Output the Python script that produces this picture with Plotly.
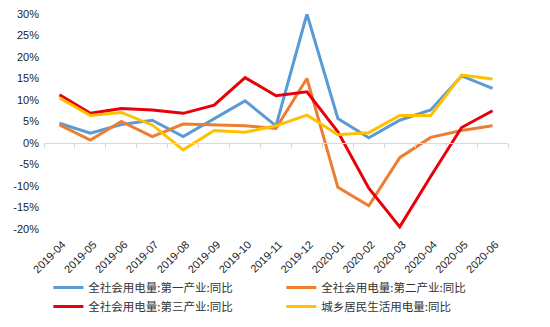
import plotly.graph_objects as go

months = ["2019-04", "2019-05", "2019-06", "2019-07", "2019-08", "2019-09", "2019-10",
          "2019-11", "2019-12", "2020-01", "2020-02", "2020-03", "2020-04", "2020-05", "2020-06"]

primary = [4.6, 2.3, 4.3, 5.3, 1.5, 5.6, 9.8, 4.0, 30.0, 5.7, 1.2, 5.3, 7.7, 15.6, 12.7]
secondary = [4.2, 0.7, 5.0, 1.5, 4.4, 4.2, 4.0, 3.4, 15.0, -10.3, -14.6, -3.4, 1.3, 2.9, 4.0]
tertiary = [11.2, 6.9, 8.0, 7.7, 6.9, 8.8, 15.2, 11.0, 11.9, 2.6, -10.5, -19.5, -7.8, 3.6, 7.5]
residential = [10.5, 6.4, 7.1, 4.2, -1.6, 2.9, 2.5, 4.0, 6.5, 1.9, 2.4, 6.4, 6.4, 15.8, 14.9]

y_tick_vals = [-20, -15, -10, -5, 0, 5, 10, 15, 20, 25, 30]
y_tick_text = ["-20%", "-15%", "-10%", "-5%", "0%", "5%", "10%", "15%", "20%", "25%", "30%"]

names = ["全社会用电量:第一产业:同比", "全社会用电量:第二产业:同比",
         "全社会用电量:第三产业:同比", "城乡居民生活用电量:同比"]
colors = ["#5B9BD5", "#ED7D31", "#E8000B", "#FFC000"]
series = [primary, secondary, tertiary, residential]

fig = go.Figure()
for nm, col, vals in zip(names, colors, series):
    fig.add_trace(go.Scatter(x=months, y=vals, mode="lines", name=nm,
                             line=dict(color=col, width=3)))

# invisible trace on the zero-line axis (for the category tick marks)
fig.add_trace(go.Scatter(x=months, y=[0] * len(months), xaxis="x2", mode="lines",
                         line=dict(width=0), showlegend=False, hoverinfo="skip"))

W, L, R = 550, 44, 20
plot_w = 464
dom = [0, plot_w / (W - L - R)]

ymin, ymax = -20, 30
fig.update_layout(
    width=W, height=327,
    margin=dict(l=L, r=R, t=14, b=98, autoexpand=False),
    plot_bgcolor="white", paper_bgcolor="white",
    font=dict(family="Liberation Sans, Arial", color="#222222", size=11),
    xaxis=dict(type="category", tickangle=-45, showgrid=False, showline=False,
               ticks="", tickfont=dict(size=11, color="#222222"), domain=dom,
               ticklabelstandoff=6, ticklabelshift=3,
               range=[-0.5, len(months) - 0.5]),
    xaxis2=dict(type="category", overlaying="x", anchor="free", domain=dom,
                position=(0 - ymin) / (ymax - ymin), showline=True,
                linecolor="#D9D9D9", linewidth=1, ticks="outside", ticklen=4,
                tickcolor="#D9D9D9", tickson="boundaries", showticklabels=False,
                showgrid=False, range=[-0.5, len(months) - 0.5]),
    yaxis=dict(range=[ymin, ymax], tickvals=y_tick_vals, ticktext=y_tick_text,
               showgrid=False, zeroline=False, showline=False, ticklabelstandoff=4,
               tickfont=dict(size=11, color="#222222")),
    legend=dict(orientation="h", x=0.009, xanchor="left", y=-0.205, yanchor="top",
                entrywidth=188, entrywidthmode="pixels", tracegroupgap=0,
                font=dict(family="Noto Sans CJK SC", size=11.5, color="#333333"),
                itemwidth=30),
    showlegend=True,
)

fig.write_html("out.html")
